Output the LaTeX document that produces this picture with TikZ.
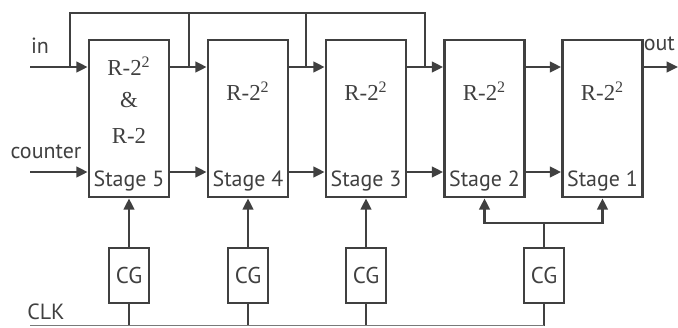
\documentclass[tikz,border=0pt]{standalone}
\usepackage{fontspec}
\setmainfont{Liberation Serif}
\setsansfont{PT Sans}
\usepackage{tikz}
\usetikzlibrary{positioning}
\usetikzlibrary{calc,arrows.meta}
\definecolor{ink}{HTML}{404040}

\begin{document}
\begin{tikzpicture}[color=ink,line width=1.5pt,
  stage/.style={draw,minimum width=1.6cm,minimum height=3.14cm},
  gate/.style={draw,minimum width=0.8cm,minimum height=1.1cm,inner sep=0pt,font=\sffamily\fontsize{13}{15}\selectfont},
  rad/.style={font=\fontsize{13}{15}\selectfont},
  tag/.style={font=\sffamily\fontsize{12.5}{15}\selectfont},
  wire/.style={draw,line cap=rect},
  flow/.style={draw,-{Triangle[length=6.5pt,width=6pt]}}]
\useasboundingbox (0,0) rectangle (13.56,6.54);
% stages
\node[stage] at (2.58,4.17) (s5) {};
\node[stage] at (4.96,4.17) (s4) {};
\node[stage] at (7.32,4.17) (s3) {};
\node[stage] at (9.69,4.17) (s2) {};
\node[stage] at (12.05,4.17) (s1) {};
\node[rad] at (2.58,5.22) (r5a) {R-2\textsuperscript{2}};
\node[rad] at (2.58,4.54) (r5b) {\&};
\node[rad] at (2.58,3.82) (r5c) {R-2};
\node[rad] at (4.96,4.72) (r4) {R-2\textsuperscript{2}};
\node[rad] at (7.32,4.72) (r3) {R-2\textsuperscript{2}};
\node[rad] at (9.69,4.72) (r2) {R-2\textsuperscript{2}};
\node[rad] at (12.05,4.72) (r1) {R-2\textsuperscript{2}};
\node[tag] at (2.58,2.92) (t5) {Stage 5};
\node[tag] at (4.96,2.92) (t4) {Stage 4};
\node[tag] at (7.32,2.92) (t3) {Stage 3};
\node[tag] at (9.69,2.92) (t2) {Stage 2};
\node[tag] at (12.05,2.92) (t1) {Stage 1};
% clock gates
\node[gate] at (2.58,1.03) (cg5) {CG};
\node[gate] at (4.96,1.03) (cg4) {CG};
\node[gate] at (7.32,1.03) (cg3) {CG};
\node[gate] at (10.88,1.03) (cg2) {CG};
% ports
\coordinate (in) at (0.6,5.2);
\coordinate (counter) at (0.6,3.1);
\coordinate (out) at (13.56,5.2);
\coordinate (clk) at (0.6,0.04);
\coordinate (fork) at (10.88,2.08);
\node[tag] at (0.8,5.62) (inlbl) {in};
\node[tag] at (0.92,3.5) (cntlbl) {counter};
\node[tag,anchor=east,inner xsep=1pt] at (13.56,5.66) (outlbl) {out};
\node[tag] at (0.92,0.3) (clklbl) {CLK};
% data path
\draw[flow] (in) -- (in -| s5.west);
\draw[flow] (counter) -- (counter -| s5.west);
\foreach \a/\b in {s5/s4,s4/s3,s3/s2,s2/s1}{
  \draw[flow] (\a.east |- in) -- (\b.west |- in);
  \draw[flow] (\a.east |- counter) -- (\b.west |- counter);
}
\draw[flow] (s1.east |- in) -- (out);
% bypass bus
\coordinate (tap0) at (1.4,5.2);
\coordinate (tap1) at (3.78,5.2);
\coordinate (tap2) at (6.12,5.2);
\coordinate (tap3) at (8.5,5.2);
\coordinate (top0) at (1.4,6.28);
\coordinate (top3) at (8.5,6.28);
\draw[wire] (tap0) -- (top0) -- (top3) -- (tap3);
\draw[wire] (tap1 |- top0) -- (tap1);
\draw[wire] (tap2 |- top0) -- (tap2);
% clocking
\foreach \g/\s in {cg5/s5,cg4/s4,cg3/s3}{
  \draw[flow] (\g) -- (\s);
  \draw[wire] (\g.south) -- (\g |- clk);
}
\draw[wire] (cg2.north) -- (fork);
\draw[flow] (fork) -| (s2.south);
\draw[flow] (fork) -| (s1.south);
\draw[wire] (cg2.south) -- (cg2 |- clk);
\draw[line width=0.5pt,ink!70] (clk) -- (cg2 |- clk);
\end{tikzpicture}
\end{document}
